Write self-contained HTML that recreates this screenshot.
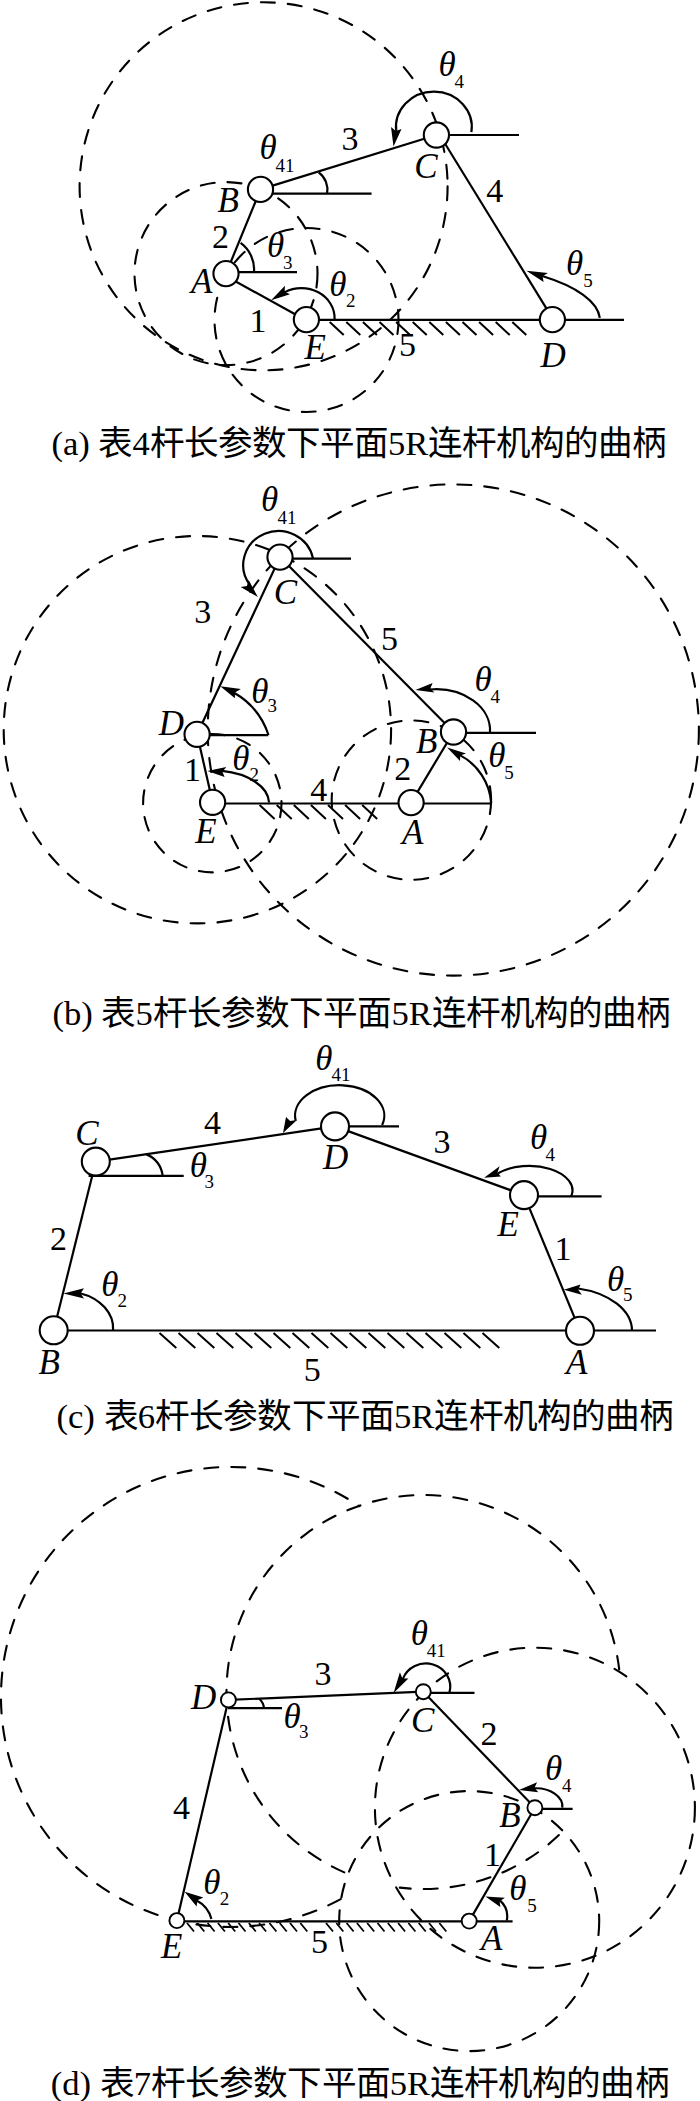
<!DOCTYPE html>
<html lang="zh-CN"><head><meta charset="utf-8"><style>
html,body{margin:0;padding:0;background:#fff;width:700px;height:2101px;overflow:hidden}
svg{display:block}
text{font-family:"Liberation Serif",serif;fill:#000;stroke:none}
.cap{stroke:none;font-weight:300}
</style></head><body>
<svg width="700" height="2101" viewBox="0 0 700 2101" stroke="#000" stroke-linecap="butt">
<circle cx="263.6" cy="186.3" r="184.0" fill="none" stroke-width="2.1" stroke-dasharray="14 13" stroke-dashoffset="0" stroke-linecap="round"/>
<circle cx="226.0" cy="273.6" r="91.5" fill="none" stroke-width="2.1" stroke-dasharray="14 13" stroke-dashoffset="0" stroke-linecap="round"/>
<circle cx="306.5" cy="320.0" r="92.0" fill="none" stroke-width="2.1" stroke-dasharray="14 13" stroke-dashoffset="0" stroke-linecap="round"/>
<line x1="260.5" y1="189.4" x2="436.4" y2="135.0" stroke-width="2.2"/>
<line x1="260.5" y1="189.4" x2="226.0" y2="273.6" stroke-width="2.2"/>
<line x1="225.8" y1="276.0" x2="306.4" y2="320.5" stroke-width="2.2"/>
<line x1="439.7" y1="135.0" x2="553.3" y2="319.6" stroke-width="2.2"/>
<line x1="306.5" y1="319.8" x2="624.0" y2="319.8" stroke-width="2.2"/>
<line x1="260.0" y1="193.7" x2="371.6" y2="193.7" stroke-width="2.2"/>
<line x1="226.0" y1="272.2" x2="297.0" y2="272.2" stroke-width="2.2"/>
<line x1="436.0" y1="135.0" x2="519.0" y2="135.0" stroke-width="2.2"/>
<path d="M329.7,322.0l14,13M346.3,322.0l14,13M362.9,322.0l14,13M379.5,322.0l14,13M396.1,322.0l14,13M412.7,322.0l14,13M429.3,322.0l14,13M445.9,322.0l14,13M462.5,322.0l14,13M479.1,322.0l14,13M495.7,322.0l14,13M512.3,322.0l14,13" stroke-width="2.0" fill="none"/>
<path d="M327.1,193.7 A21.8,21.8 0 0 0 318.7,172.3" fill="none" stroke-width="2.2"/>
<path d="M254.0,272.0 A32.8,32.8 0 0 0 240.6,242.9" fill="none" stroke-width="2.2"/>
<path d="M471.4,132.1 A37.9,35.5 0 1 0 396.3,131.6" fill="none" stroke-width="2.2"/>
<path d="M393.5,146.5 L391.0,127.0 L395.8,131.1 L401.5,129.0 Z" fill="#000" stroke="none"/>
<path d="M334.6,319.1 A33.2,29.9 0 0 0 284.4,292.4" fill="none" stroke-width="2.2"/>
<path d="M271.1,300.3 L284.9,285.7 L284.7,291.8 L290.0,294.3 Z" fill="#000" stroke="none"/>
<path d="M599.8,317.9 A165.7,58.8 0 0 0 542.2,276.0" fill="none" stroke-width="2.2"/>
<path d="M526.4,270.7 L547.9,272.9 L542.5,276.3 L543.6,282.1 Z" fill="#000" stroke="none"/>
<circle cx="260.5" cy="189.4" r="12.6" fill="#fff" stroke-width="2.1"/>
<circle cx="226.0" cy="273.6" r="12.6" fill="#fff" stroke-width="2.1"/>
<circle cx="306.4" cy="319.6" r="12.6" fill="#fff" stroke-width="2.1"/>
<circle cx="436.4" cy="135.0" r="12.6" fill="#fff" stroke-width="2.1"/>
<circle cx="552.4" cy="319.6" r="12.6" fill="#fff" stroke-width="2.1"/>
<text x="438.6" y="76.1" font-size="35" font-style="italic">θ</text>
<text x="454.6" y="87.9" font-size="19">4</text>
<text x="341.4" y="149.5" font-size="34">3</text>
<text x="259.4" y="159.3" font-size="35" font-style="italic">θ</text>
<text x="275.6" y="171.8" font-size="19">41</text>
<text x="414.2" y="177.9" font-size="35" font-style="italic">C</text>
<text x="217.6" y="212.1" font-size="35" font-style="italic">B</text>
<text x="486.3" y="202.0" font-size="34">4</text>
<text x="212.1" y="247.9" font-size="34">2</text>
<text x="266.9" y="257.0" font-size="35" font-style="italic">θ</text>
<text x="283.1" y="269.4" font-size="19">3</text>
<text x="191.0" y="292.9" font-size="35" font-style="italic">A</text>
<text x="329.2" y="295.6" font-size="35" font-style="italic">θ</text>
<text x="346.1" y="307.0" font-size="19">2</text>
<text x="566.1" y="275.3" font-size="35" font-style="italic">θ</text>
<text x="583.2" y="287.1" font-size="19">5</text>
<text x="249.4" y="332.0" font-size="34">1</text>
<text x="304.4" y="358.6" font-size="35" font-style="italic">E</text>
<text x="399.0" y="356.0" font-size="34">5</text>
<text x="540.4" y="367.0" font-size="35" font-style="italic">D</text>
<text class="cap" x="51.5" y="455" font-size="34.5" textLength="615" lengthAdjust="spacingAndGlyphs">(a) 表4杆长参数下平面5R连杆机构的曲柄</text>
<circle cx="197.4" cy="729.7" r="193.7" fill="none" stroke-width="2.1" stroke-dasharray="14 13" stroke-dashoffset="0" stroke-linecap="round"/>
<circle cx="453.3" cy="730.0" r="245.6" fill="none" stroke-width="2.1" stroke-dasharray="14 13" stroke-dashoffset="0" stroke-linecap="round"/>
<circle cx="212.3" cy="803.2" r="69.2" fill="none" stroke-width="2.1" stroke-dasharray="14 13" stroke-dashoffset="0" stroke-linecap="round"/>
<circle cx="411.4" cy="800.1" r="79.7" fill="none" stroke-width="2.1" stroke-dasharray="14 13" stroke-dashoffset="0" stroke-linecap="round"/>
<line x1="280.0" y1="557.1" x2="197.1" y2="734.3" stroke-width="2.2"/>
<line x1="280.0" y1="557.1" x2="453.5" y2="732.0" stroke-width="2.2"/>
<line x1="197.1" y1="734.3" x2="212.6" y2="802.3" stroke-width="2.2"/>
<line x1="411.1" y1="802.6" x2="453.5" y2="732.0" stroke-width="2.2"/>
<line x1="212.5" y1="803.5" x2="491.0" y2="803.5" stroke-width="2.2"/>
<line x1="280.0" y1="558.6" x2="351.0" y2="558.6" stroke-width="2.2"/>
<line x1="197.5" y1="735.1" x2="268.3" y2="735.1" stroke-width="2.2"/>
<line x1="453.0" y1="732.9" x2="536.0" y2="732.9" stroke-width="2.2"/>
<path d="M259.6,805.0l15,14M276.7,805.0l15,14M293.8,805.0l15,14M310.9,805.0l15,14M328.0,805.0l15,14M345.1,805.0l15,14M362.2,805.0l15,14" stroke-width="2.0" fill="none"/>
<path d="M313.0,558.5 A35.2,34.0 0 1 0 249.7,584.6" fill="none" stroke-width="2.2"/>
<path d="M257.9,597.1 L240.7,587.1 L246.9,585.9 L248.6,580.0 Z" fill="#000" stroke="none"/>
<path d="M268.5,735.0 A75.5,75.5 0 0 0 234.0,692.8" fill="none" stroke-width="2.2"/>
<path d="M220.3,686.3 L240.9,688.9 L234.9,692.4 L234.9,698.3 Z" fill="#000" stroke="none"/>
<path d="M269.1,802.5 A56.4,33.2 0 0 0 222.1,770.9" fill="none" stroke-width="2.2"/>
<path d="M207.4,771.1 L226.3,766.9 L222.4,771.8 L224.6,777.1 Z" fill="#000" stroke="none"/>
<path d="M490.0,732.5 A54.1,41.2 0 0 0 430.0,689.5" fill="none" stroke-width="2.2"/>
<path d="M415.4,690.0 L432.6,683.1 L430.4,688.2 L434.3,692.6 Z" fill="#000" stroke="none"/>
<path d="M491.2,803.1 A58.8,58.8 0 0 0 459.9,755.1" fill="none" stroke-width="2.2"/>
<path d="M447.1,747.4 L466.0,753.4 L460.3,755.6 L460.0,761.1 Z" fill="#000" stroke="none"/>
<circle cx="280.0" cy="557.1" r="12.6" fill="#fff" stroke-width="2.1"/>
<circle cx="197.1" cy="734.3" r="12.6" fill="#fff" stroke-width="2.1"/>
<circle cx="212.6" cy="802.3" r="12.6" fill="#fff" stroke-width="2.1"/>
<circle cx="411.1" cy="802.6" r="12.6" fill="#fff" stroke-width="2.1"/>
<circle cx="453.5" cy="732.0" r="12.6" fill="#fff" stroke-width="2.1"/>
<text x="261.1" y="511.0" font-size="35" font-style="italic">θ</text>
<text x="277.5" y="523.6" font-size="19">41</text>
<text x="273.8" y="603.6" font-size="35" font-style="italic">C</text>
<text x="194.2" y="622.9" font-size="34">3</text>
<text x="380.9" y="650.0" font-size="34">5</text>
<text x="251.2" y="703.0" font-size="35" font-style="italic">θ</text>
<text x="267.4" y="712.0" font-size="19">3</text>
<text x="474.6" y="690.5" font-size="35" font-style="italic">θ</text>
<text x="490.5" y="702.9" font-size="19">4</text>
<text x="158.7" y="735.3" font-size="35" font-style="italic">D</text>
<text x="415.9" y="753.4" font-size="35" font-style="italic">B</text>
<text x="232.2" y="769.9" font-size="35" font-style="italic">θ</text>
<text x="249.4" y="781.4" font-size="19">2</text>
<text x="488.2" y="766.8" font-size="35" font-style="italic">θ</text>
<text x="504.3" y="779.1" font-size="19">5</text>
<text x="184.0" y="780.6" font-size="34">1</text>
<text x="394.3" y="780.4" font-size="34">2</text>
<text x="310.3" y="801.0" font-size="34">4</text>
<text x="195.3" y="842.5" font-size="35" font-style="italic">E</text>
<text x="401.9" y="843.9" font-size="35" font-style="italic">A</text>
<text class="cap" x="52.4" y="1024.5" font-size="34.5" textLength="618" lengthAdjust="spacingAndGlyphs">(b) 表5杆长参数下平面5R连杆机构的曲柄</text>
<line x1="95.8" y1="1161.6" x2="335.0" y2="1126.4" stroke-width="2.2"/>
<line x1="335.0" y1="1126.4" x2="524.0" y2="1195.1" stroke-width="2.2"/>
<line x1="95.8" y1="1161.6" x2="53.7" y2="1330.3" stroke-width="2.2"/>
<line x1="524.0" y1="1195.1" x2="580.0" y2="1330.8" stroke-width="2.2"/>
<line x1="53.0" y1="1330.5" x2="656.0" y2="1330.5" stroke-width="2.2"/>
<line x1="88.6" y1="1175.8" x2="183.7" y2="1175.8" stroke-width="2.2"/>
<line x1="335.0" y1="1126.4" x2="399.0" y2="1126.4" stroke-width="2.2"/>
<line x1="524.0" y1="1196.4" x2="601.6" y2="1196.4" stroke-width="2.2"/>
<path d="M159.5,1333.0l16.8,15M178.5,1333.0l16.8,15M197.5,1333.0l16.8,15M216.5,1333.0l16.8,15M235.5,1333.0l16.8,15M254.5,1333.0l16.8,15M273.5,1333.0l16.8,15M292.5,1333.0l16.8,15M311.5,1333.0l16.8,15M330.5,1333.0l16.8,15M349.5,1333.0l16.8,15M368.5,1333.0l16.8,15M387.5,1333.0l16.8,15M406.5,1333.0l16.8,15M425.5,1333.0l16.8,15M444.5,1333.0l16.8,15M463.5,1333.0l16.8,15M482.5,1333.0l16.8,15" stroke-width="2.0" fill="none"/>
<path d="M162.6,1175.8 A25.4,25.4 0 0 0 146.4,1154.4" fill="none" stroke-width="2.2"/>
<path d="M113.1,1330.3 A47.4,37.0 0 0 0 80.0,1293.2" fill="none" stroke-width="2.2"/>
<path d="M63.4,1293.4 L84.0,1288.3 L80.5,1293.4 L84.0,1298.6 Z" fill="#000" stroke="none"/>
<path d="M382.1,1125.0 A44.6,30.4 0 1 0 295.7,1120.7" fill="none" stroke-width="2.2"/>
<path d="M283.0,1133.0 L286.0,1117.0 L290.1,1121.0 L297.0,1120.0 Z" fill="#000" stroke="none"/>
<path d="M571.2,1196.4 A43.4,24.6 0 0 0 498.0,1173.3" fill="none" stroke-width="2.2"/>
<path d="M484.1,1177.8 L499.6,1166.3 L497.5,1172.5 L500.8,1176.6 Z" fill="#000" stroke="none"/>
<path d="M632.0,1330.8 A69.1,43.3 0 0 0 578.1,1288.5" fill="none" stroke-width="2.2"/>
<path d="M563.8,1289.7 L580.5,1284.5 L578.2,1289.7 L581.8,1294.8 Z" fill="#000" stroke="none"/>
<circle cx="95.8" cy="1161.6" r="14" fill="#fff" stroke-width="2.1"/>
<circle cx="335.0" cy="1126.4" r="14" fill="#fff" stroke-width="2.1"/>
<circle cx="524.0" cy="1195.1" r="14" fill="#fff" stroke-width="2.1"/>
<circle cx="53.7" cy="1330.3" r="14" fill="#fff" stroke-width="2.1"/>
<circle cx="580.0" cy="1330.8" r="14" fill="#fff" stroke-width="2.1"/>
<text x="315.2" y="1069.7" font-size="35" font-style="italic">θ</text>
<text x="331.6" y="1081.0" font-size="19">41</text>
<text x="75.2" y="1145.4" font-size="35" font-style="italic">C</text>
<text x="204.0" y="1134.3" font-size="34">4</text>
<text x="323.0" y="1169.0" font-size="35" font-style="italic">D</text>
<text x="433.5" y="1152.8" font-size="34">3</text>
<text x="530.0" y="1149.2" font-size="35" font-style="italic">θ</text>
<text x="545.4" y="1161.1" font-size="19">4</text>
<text x="189.7" y="1177.2" font-size="35" font-style="italic">θ</text>
<text x="204.6" y="1187.8" font-size="19">3</text>
<text x="497.4" y="1235.7" font-size="35" font-style="italic">E</text>
<text x="49.9" y="1249.7" font-size="34">2</text>
<text x="554.5" y="1260.1" font-size="34">1</text>
<text x="101.2" y="1295.7" font-size="35" font-style="italic">θ</text>
<text x="117.4" y="1307.1" font-size="19">2</text>
<text x="607.0" y="1290.7" font-size="35" font-style="italic">θ</text>
<text x="623.1" y="1301.2" font-size="19">5</text>
<text x="38.5" y="1373.9" font-size="35" font-style="italic">B</text>
<text x="303.7" y="1381.0" font-size="34">5</text>
<text x="566.0" y="1373.8" font-size="35" font-style="italic">A</text>
<text class="cap" x="56.4" y="1428.3" font-size="34.5" textLength="617" lengthAdjust="spacingAndGlyphs">(c) 表6杆长参数下平面5R连杆机构的曲柄</text>
<path d="M340.7,1899.1 A230.0,230.0 0 1 1 359.3,1506.1" fill="none" stroke-width="2.1" stroke-dasharray="14 13" stroke-linecap="round"/>
<path d="M558.9,1835.1 A197.0,197.0 0 0 1 399.8,1887.6" fill="none" stroke-width="2.1" stroke-dasharray="14 13" stroke-linecap="round"/>
<path d="M344.3,1872.4 A197.0,197.0 0 1 1 619.2,1669.4" fill="none" stroke-width="2.1" stroke-dasharray="14 13" stroke-linecap="round"/>
<circle cx="534.9" cy="1807.7" r="160.0" fill="none" stroke-width="2.1" stroke-dasharray="14 13" stroke-dashoffset="0" stroke-linecap="round"/>
<circle cx="469.2" cy="1921.1" r="130.0" fill="none" stroke-width="2.1" stroke-dasharray="14 13" stroke-dashoffset="0" stroke-linecap="round"/>
<line x1="228.4" y1="1699.9" x2="423.3" y2="1691.7" stroke-width="2.2"/>
<line x1="423.3" y1="1691.7" x2="534.9" y2="1807.7" stroke-width="2.2"/>
<line x1="534.9" y1="1807.7" x2="469.2" y2="1921.1" stroke-width="2.2"/>
<line x1="228.4" y1="1699.9" x2="176.9" y2="1920.6" stroke-width="2.2"/>
<line x1="177.0" y1="1921.4" x2="512.6" y2="1921.4" stroke-width="2.4"/>
<line x1="228.0" y1="1708.1" x2="282.0" y2="1708.1" stroke-width="2.2"/>
<line x1="423.0" y1="1692.9" x2="474.5" y2="1692.9" stroke-width="2.2"/>
<line x1="534.7" y1="1808.9" x2="572.6" y2="1808.9" stroke-width="2.2"/>
<path d="M187.0,1923.0l7,8.5M197.3,1923.0l7,8.5M207.6,1923.0l7,8.5M217.9,1923.0l7,8.5M228.2,1923.0l7,8.5M238.5,1923.0l7,8.5M248.8,1923.0l7,8.5M259.1,1923.0l7,8.5M269.4,1923.0l7,8.5M279.7,1923.0l7,8.5M290.0,1923.0l7,8.5M300.3,1923.0l7,8.5" stroke-width="1.8" fill="none"/>
<path d="M326.0,1923.0l7,8.5M336.3,1923.0l7,8.5M346.6,1923.0l7,8.5M356.9,1923.0l7,8.5M367.2,1923.0l7,8.5M377.5,1923.0l7,8.5M387.8,1923.0l7,8.5M398.1,1923.0l7,8.5M408.4,1923.0l7,8.5M418.7,1923.0l7,8.5M429.0,1923.0l7,8.5M439.3,1923.0l7,8.5" stroke-width="1.8" fill="none"/>
<path d="M264.0,1708.1 A14.5,14.5 0 0 0 259.5,1699.0" fill="none" stroke-width="2.2"/>
<path d="M449.4,1692.9 A24.4,23.2 0 0 0 402.8,1679.2" fill="none" stroke-width="2.2"/>
<path d="M393.6,1692.9 L399.9,1672.3 L402.4,1678.4 L408.4,1678.6 Z" fill="#000" stroke="none"/>
<path d="M562.3,1807.7 A26.4,18.1 0 0 0 534.0,1788.3" fill="none" stroke-width="2.2"/>
<path d="M518.9,1790.0 L537.1,1782.3 L534.5,1787.8 L538.3,1792.3 Z" fill="#000" stroke="none"/>
<path d="M506.8,1920.6 A21.6,21.6 0 0 0 499.9,1900.4" fill="none" stroke-width="2.2"/>
<path d="M485.4,1896.6 L504.9,1897.7 L499.7,1901.3 L500.3,1906.9 Z" fill="#000" stroke="none"/>
<path d="M211.4,1919.1 A28.9,28.9 0 0 0 196.6,1900.6" fill="none" stroke-width="2.2"/>
<path d="M184.6,1891.7 L203.4,1897.4 L197.4,1900.2 L196.6,1906.6 Z" fill="#000" stroke="none"/>
<circle cx="228.4" cy="1699.9" r="7.5" fill="#fff" stroke-width="1.9"/>
<circle cx="423.3" cy="1691.7" r="7.5" fill="#fff" stroke-width="1.9"/>
<circle cx="534.9" cy="1807.7" r="7.5" fill="#fff" stroke-width="1.9"/>
<circle cx="469.2" cy="1921.1" r="7.5" fill="#fff" stroke-width="1.9"/>
<circle cx="176.9" cy="1920.6" r="7.5" fill="#fff" stroke-width="1.9"/>
<text x="410.8" y="1644.7" font-size="35" font-style="italic">θ</text>
<text x="426.7" y="1656.8" font-size="19">41</text>
<text x="314.5" y="1684.6" font-size="34">3</text>
<text x="190.9" y="1708.6" font-size="35" font-style="italic">D</text>
<text x="283.6" y="1727.7" font-size="35" font-style="italic">θ</text>
<text x="299.1" y="1738.3" font-size="19">3</text>
<text x="411.1" y="1732.3" font-size="35" font-style="italic">C</text>
<text x="480.5" y="1745.0" font-size="34">2</text>
<text x="544.9" y="1780.2" font-size="35" font-style="italic">θ</text>
<text x="561.9" y="1791.7" font-size="19">4</text>
<text x="499.3" y="1827.4" font-size="35" font-style="italic">B</text>
<text x="173.0" y="1819.4" font-size="34">4</text>
<text x="484.1" y="1866.3" font-size="34">1</text>
<text x="203.3" y="1893.7" font-size="35" font-style="italic">θ</text>
<text x="219.7" y="1904.9" font-size="19">2</text>
<text x="509.2" y="1900.2" font-size="35" font-style="italic">θ</text>
<text x="527.2" y="1912.0" font-size="19">5</text>
<text x="160.9" y="1958.3" font-size="35" font-style="italic">E</text>
<text x="311.0" y="1952.6" font-size="34">5</text>
<text x="480.9" y="1949.7" font-size="35" font-style="italic">A</text>
<text class="cap" x="50.7" y="2094.5" font-size="34.5" textLength="618" lengthAdjust="spacingAndGlyphs">(d) 表7杆长参数下平面5R连杆机构的曲柄</text>
</svg></body></html>
